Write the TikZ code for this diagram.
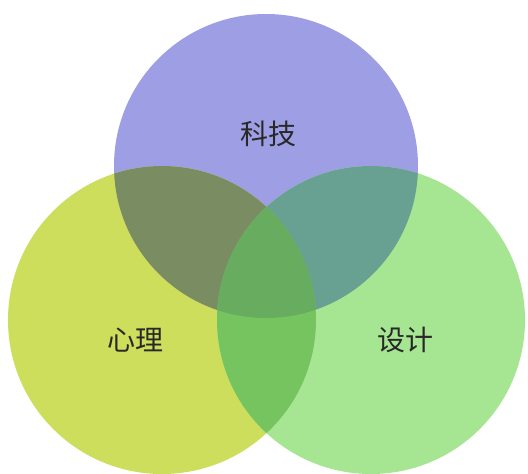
\documentclass[tikz,border=0pt]{standalone}
\usepackage{fontspec}
\newfontfamily\cjk{Noto Sans CJK SC}
\definecolor{topc}{RGB}{158,158,228}
\definecolor{leftc}{RGB}{204,222,92}
\definecolor{rightc}{RGB}{166,230,146}
\definecolor{tlc}{RGB}{122,140,98}
\definecolor{trc}{RGB}{104,160,146}
\definecolor{lrc}{RGB}{118,196,96}
\definecolor{tlrc}{RGB}{104,172,96}
\definecolor{txt}{RGB}{40,40,40}
\tikzset{lbl/.style={font=\cjk\fontsize{28}{32}\selectfont, text=txt, inner sep=0pt}}
\begin{document}
\begin{tikzpicture}[x=1pt,y=-1pt]
\useasboundingbox (0,0) rectangle (528,474);
\fill[white] (0,0) rectangle (528,474);
\def\T{(266,166) circle [radius=152pt]}
\def\L{(162,320) circle [radius=154pt]}
\def\R{(371,320) circle [radius=154pt]}
\fill[topc] \T;
\fill[leftc] \L;
\fill[rightc] \R;
\begin{scope}\clip \T; \fill[tlc] \L; \end{scope}
\begin{scope}\clip \T; \fill[trc] \R; \end{scope}
\begin{scope}\clip \L; \fill[lrc] \R; \end{scope}
\begin{scope}\clip \T; \clip \L; \fill[tlrc] \R; \end{scope}
\node[lbl] (tech) at (268,134) {科技};
\node[lbl] (psy) at (135,340) {心理};
\node[lbl] (design) at (405,340) {设计};
\end{tikzpicture}
\end{document}
